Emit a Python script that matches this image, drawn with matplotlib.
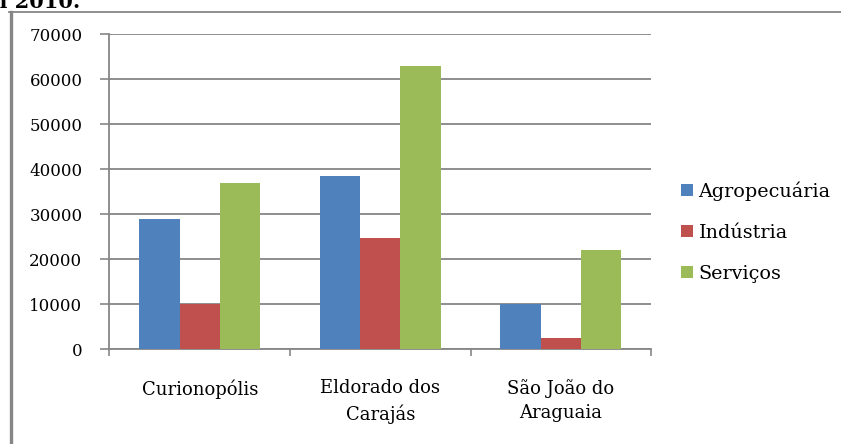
import numpy as np
import matplotlib
matplotlib.use("Agg")
import matplotlib.pyplot as plt
from matplotlib.lines import Line2D

municipios = ["Curionopólis", "Eldorado dos\nCarajás", "São João do\nAraguaia"]
setores = ["Agropecuária", "Indústria", "Serviços"]
agropecuaria = [29000, 38500, 10000]
industria = [10000, 24700, 2500]
servicos = [37000, 63000, 22000]
cores = ["#4F81BD", "#C0504D", "#9BBB59"]
yticks = [0, 10000, 20000, 30000, 40000, 50000, 60000, 70000]

cinza = "#868686"
plt.rcParams["font.family"] = ["DejaVu Serif"]

fig = plt.figure(figsize=(8.41, 4.44), dpi=100)
ax = fig.add_axes([0.1302, 0.2133, 0.7741 - 0.1302, 0.9228 - 0.2133])

x = np.arange(len(municipios))
largura = 0.223
for i, (serie, cor, nome) in enumerate(zip([agropecuaria, industria, servicos], cores, setores)):
    ax.bar(x + (i - 1) * largura, serie, largura, color=cor, label=nome, zorder=3)

ax.set_xlim(-0.5, 2.5)
ax.set_ylim(0, 70000)
ax.set_yticks(yticks)
ax.set_yticklabels([str(v) for v in yticks], fontsize=12)
ax.yaxis.grid(True, color=cinza, linewidth=1.3, zorder=0)
ax.tick_params(axis="y", length=6.5, width=1.2, color=cinza, pad=13)

# divisões entre categorias como ticks maiores, nomes como ticks menores
ax.set_xticks(np.arange(-0.5, 3.0, 1.0))
ax.set_xticklabels([])
ax.set_xticks(x, minor=True)
ax.set_xticklabels(municipios, minor=True, fontsize=13, linespacing=1.45)
ax.tick_params(axis="x", which="major", length=5, width=1.2, color=cinza)
ax.tick_params(axis="x", which="minor", length=0, pad=21.5)

for lado in ["top", "right"]:
    ax.spines[lado].set_visible(False)
for lado in ["left", "bottom"]:
    ax.spines[lado].set_color(cinza)
    ax.spines[lado].set_linewidth(1.3)

ax.legend(loc="center left", bbox_to_anchor=(0.7987, 0.478), bbox_transform=fig.transFigure,
          frameon=False, fontsize=13.8, borderpad=0, handlelength=0.6, handleheight=0.6,
          handletextpad=0.3, labelspacing=1.2)

# moldura do gráfico e resto da legenda do documento
fig.add_artist(Line2D([10.5 / 841, 10.5 / 841], [0, 1 - 12 / 444], transform=fig.transFigure,
                      color=cinza, linewidth=2.4))
fig.add_artist(Line2D([9 / 841, 1], [1 - 12.3 / 444, 1 - 12.3 / 444], transform=fig.transFigure,
                      color=cinza, linewidth=1.3))
fig.text(80 / 841, 1 - 8 / 444, "em 2010.", ha="right", va="baseline",
         fontsize=15, fontweight="bold")

fig.savefig("out.png", dpi=100)
